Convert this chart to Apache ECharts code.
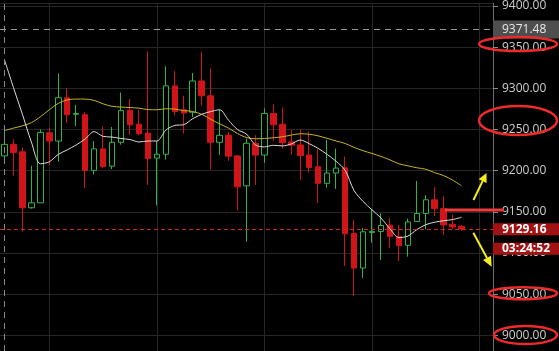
<!DOCTYPE html>
<html><head><meta charset="utf-8">
<style>html,body{margin:0;padding:0;background:#000;}#c{width:559px;height:351px;}</style>
<script src="https://cdn.jsdelivr.net/npm/echarts@6/dist/echarts.min.js"></script>
</head><body><div id="c"></div>
<script>
// ---- data ----
const categories = ['0','1','2','3','4','5','6','7','8','9','10','11','12','13','14','15','16','17','18','19','20','21','22','23','24','25','26','27','28','29','30','31','32','33','34','35','36','37','38','39','40','41','42','43','44','45','46','47','48','49','50','51','52','53','54'];
// [open, close, low, high]
const candles = [
  [9218,9232,9209,9254],[9232,9222,9194,9238],[9223,9155,9126,9228],[9155,9161,9154,9206],
  [9161,9246.5,9161,9250],[9246,9236,9207,9252.5],[9236,9288.6,9211,9318],[9288.6,9268,9258,9300],
  [9268.5,9269.5,9254,9280],[9268,9200.4,9179,9271],[9200.4,9226.5,9195.5,9236],[9226.5,9205,9203,9254],
  [9205.5,9234.5,9202,9253],[9234.5,9273,9231.6,9295],[9273.4,9255.7,9243.6,9287],[9256.5,9245,9243,9273.7],
  [9245.7,9214.8,9182.8,9345],[9215.3,9220,9158,9235.7],[9220,9303,9213.6,9327],[9303,9271.8,9267,9321],
  [9274,9270,9245,9291],[9271,9309,9265,9318.7],[9309,9291,9279,9344],[9291,9234.5,9201.6,9324],
  [9234.5,9243,9219,9274],[9243,9217.7,9212,9247],[9218,9180.4,9151.5,9219],[9181.6,9233.3,9113.8,9239],
  [9233.3,9219,9182.8,9243],[9219,9269.4,9209.6,9275.8],[9269.4,9255.7,9235.7,9280.6],[9256.5,9234,9226.8,9277],
  [9235,9231,9219.6,9249.7],[9231.3,9218.4,9188.8,9250.2],[9219,9204,9197.6,9247.7],[9204.8,9184.7,9160.7,9226],
  [9184.7,9197.2,9179.5,9237.6],[9197.2,9203.2,9178,9226.8],[9203.6,9123.4,9084.5,9217.2],[9123.9,9081.8,9048,9140.2],
  [9081.8,9125.8,9069.7,9130.6],[9125.1,9126.3,9112.6,9152.7],[9126.3,9133.5,9091.7,9148.3],[9133.9,9120.3,9105.8,9142.3],
  [9120.3,9109,9090.5,9133.9],[9109.4,9137.8,9095.7,9141.9],[9138.3,9148,9138,9187.6],[9148,9164.7,9128.7,9170.3],
  [9164.7,9154,9145,9180],[9154,9134.2,9121.8,9169],[9135,9131.8,9128.7,9146.7],[9132.6,9129.16,9126.8,9133.9]
];
const maFast = [9334.7,9301.0,9268.5,9234.9,9208.4,9210.8,9219.8,9225.3,9231.3,9238.5,
  9247.5,9241.7,9240.9,9239.1,9237.9,9234.9,9236.1,9236.1,9249.3,9255.0,
  9255.9,9263.1,9268.5,9271.8,9274.0,9261.3,9249.9,9244.5,9231.3,9228.9,
  9230.9,9230.1,9232.5,9237.3,9232.8,9227.1,9219.8,9211.4,9200.6,9175.9,
  9162.7,9152.5,9142.6,9129.6,9118.8,9120.6,9128.4,9134.5,9137.5,9139.3,
  9140.7,9143.5];
const maSlow = [9248.7,9251.7,9254.5,9258.3,9265.5,9274.0,9281.8,9286.0,9287.0,9287.0,
  9285.4,9281.2,9278.2,9277.3,9276.7,9276.0,9274.2,9274.0,9275.2,9274.8,
  9273.0,9271.9,9268.5,9262.5,9256.9,9251.7,9245.1,9240.3,9238.8,9239.1,
  9240.0,9241.2,9243.3,9244.9,9244.3,9242.3,9239.3,9236.1,9233.1,9228.3,
  9224.3,9221.0,9217.4,9213.2,9208.4,9206.0,9203.6,9201.8,9197.6,9194.0,
  9188.6,9181.6];
const yMin = 8981.1, yMax = 9403.25, yStep = 50;
const highMark = 9371.48;
const lastPrice = 9129.16;
const countdown = '03:24:52';
const gridCats = ['5','17','29','41','53'];
const sessionCat = '0';

// ---- chart ----
const FONT = "'Open Sans', 'Noto Sans', sans-serif";
const chart = echarts.init(document.getElementById('c'), null, {renderer:'canvas', width:559, height:351});
const boxRich = {
  backgroundColor:'#a31212', color:'#ffffff', fontWeight:'bold', fontSize:12, fontFamily:FONT,
  width:52, lineHeight:19.5, padding:[0,6,0,9]
};
const option = {
  backgroundColor:'#000000',
  animation:false,
  grid:{left:-2, right:66, top:0, bottom:0},
  xAxis:{type:'category', data:categories, boundaryGap:true,
    axisLine:{show:false}, axisTick:{show:false}, axisLabel:{show:false}, splitLine:{show:false}},
  yAxis:{type:'value', position:'right', min:yMin, max:yMax, splitNumber:8, minInterval:yStep, maxInterval:yStep,
    axisLine:{show:true, lineStyle:{color:'#6e6e6e', width:1}},
    axisTick:{show:true, length:5, lineStyle:{color:'#8a8a8a'}},
    axisLabel:{color:'#cfcfcf', fontSize:12, fontFamily:FONT, margin:9, showMinLabel:false, showMaxLabel:false,
      formatter:v=>v.toFixed(2)},
    splitLine:{show:true, lineStyle:{color:'#262626', width:1}}},
  series:[
    {type:'line', data:maSlow, symbol:'none', smooth:0.3, z:3,
      lineStyle:{color:'#c6b421', width:1},
      markLine:{silent:true, symbol:['none','none'], z:1, animation:false, label:{show:false},
        lineStyle:{color:'#262626', type:'solid', width:1},
        data:gridCats.map(c=>({xAxis:c}))}},
    {type:'line', data:maFast, symbol:'none', smooth:0.3, z:3,
      lineStyle:{color:'#dcdcdc', width:1}},
    {type:'candlestick', data:candles, barWidth:6, z:2,
      itemStyle:{color:'#000000', color0:'#d0151a', borderColor:'#2fb34c', borderColor0:'#d0151a', borderWidth:1},
      markLine:{silent:true, symbol:['none','none'], animation:false,
        data:[
          {yAxis:highMark, lineStyle:{color:'#9a9a9a', type:[6,5], width:1},
            label:{show:true, position:'end', distance:0, formatter:highMark.toFixed(2),
              backgroundColor:'#4e4e4e', color:'#e8e8e8', fontSize:12, fontFamily:FONT, padding:[3,14,3,9]}},
          {yAxis:lastPrice, lineStyle:{color:'#d42222', type:[4,3], width:1},
            label:{show:true, position:'end', distance:0, offset:[0,10],
              formatter:'{a|'+lastPrice.toFixed(2)+'}\n{b|'+countdown+'}',
              rich:{a:boxRich, b:boxRich}}},
          {xAxis:sessionCat, lineStyle:{color:'#8a8a8a', type:[6,5], width:1}, label:{show:false}}
        ]}}
  ],
  graphic:[
    {type:'ellipse', z:100, shape:{cx:518, cy:44, rx:39, ry:7}, style:{fill:'none', stroke:'#ee2a2a', lineWidth:2.5}},
    {type:'ellipse', z:100, shape:{cx:518, cy:120.5, rx:39, ry:14.5}, style:{fill:'none', stroke:'#ee2a2a', lineWidth:2.5}},
    {type:'ellipse', z:100, shape:{cx:523, cy:293.3, rx:34, ry:6}, style:{fill:'none', stroke:'#ee2a2a', lineWidth:2.5}},
    {type:'ellipse', z:100, shape:{cx:525.5, cy:335, rx:31.5, ry:9}, style:{fill:'none', stroke:'#ee2a2a', lineWidth:2.5}},
    {type:'line', z:100, shape:{x1:445, y1:210, x2:504, y2:210}, style:{stroke:'#ef3b3b', lineWidth:3}},
    {type:'line', z:100, shape:{x1:473.5, y1:200, x2:482.6, y2:181.1}, style:{stroke:'#f4ec1c', lineWidth:2}},
    {type:'polygon', z:100, shape:{points:[[486.5,173],[486.6,183],[478.6,179.3]]}, style:{fill:'#f4ec1c'}},
    {type:'line', z:100, shape:{x1:473.3, y1:232.7, x2:487, y2:257.9}, style:{stroke:'#f4ec1c', lineWidth:2}},
    {type:'polygon', z:100, shape:{points:[[491.7,266.7],[491,255.8],[483,260]]}, style:{fill:'#f4ec1c'}}
  ]
};
chart.setOption(option);
</script>
</body></html>
